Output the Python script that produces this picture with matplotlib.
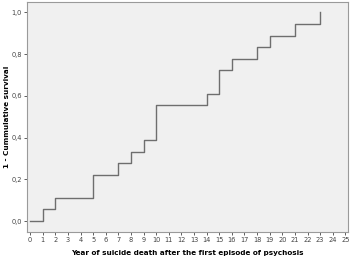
import matplotlib.pyplot as plt
import numpy as np

# event times (years) and cumulative incidence (1 - survival)
times = [0, 1, 2, 5, 7, 8, 9, 10, 14, 15, 16, 18, 19, 21, 23]
cum = [0.0, 0.056, 0.111, 0.222, 0.278, 0.333, 0.389, 0.556,
       0.611, 0.722, 0.778, 0.833, 0.889, 0.944, 1.0]

fig = plt.figure(figsize=(3.5, 2.57), dpi=100)
ax = fig.add_axes([0.077, 0.097, 0.917, 0.895])
ax.set_facecolor('#f0f0f0')

ax.step(times, cum, where='post', color='#6e6e6e', lw=1.0)

ax.set_xlim(-0.25, 25.2)
ax.set_ylim(-0.053, 1.05)
ax.set_xticks(np.arange(0, 26, 1))
ax.set_yticks([0, 0.2, 0.4, 0.6, 0.8, 1.0])
ax.set_yticklabels(['0,0', '0,2', '0,4', '0,6', '0,8', '1,0'])
ax.tick_params(labelsize=4.8, length=2, width=0.6, colors='#444444', pad=1.5)

for s in ax.spines.values():
    s.set_color('#9a9a9a')
    s.set_linewidth(0.8)

ax.set_xlabel('Year of suicide death after the first episode of psychosis',
              fontsize=5.2, fontweight='bold', labelpad=5)
ax.set_ylabel('1 - Cummulative survival', fontsize=5.2, fontweight='bold')
ax.yaxis.set_label_coords(-0.053, 0.5)

fig.savefig('out.png', dpi=100)
